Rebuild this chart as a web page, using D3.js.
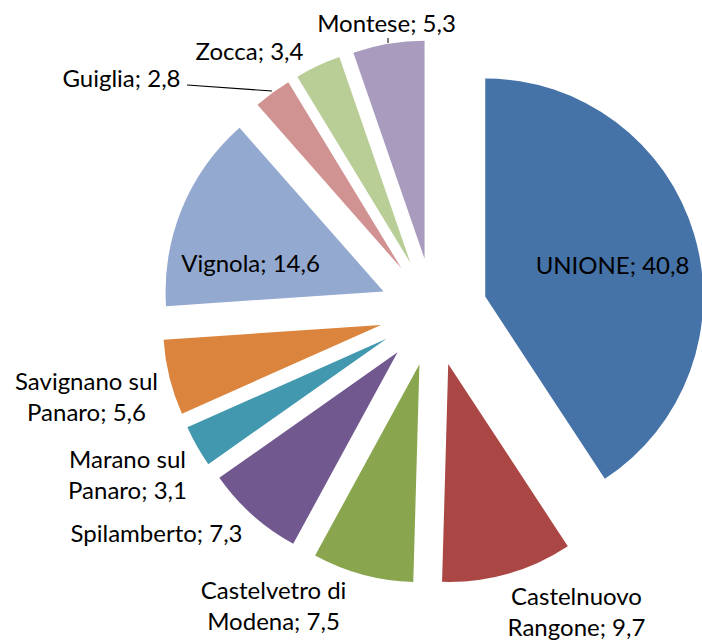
<!DOCTYPE html>
<html lang="it">

<head>
	<meta charset="UTF-8">
	<title>Pie</title>

	<style>
		body { margin: 0; background: #fff; }
		text { font-family: "Lato", "Open Sans", sans-serif; fill: #000; }
	</style>

	<script src="https://d3js.org/d3.v7.min.js"></script>

</head>

<body>

	<script type="text/javascript">
		const width = 702
		const height = 641

//data, in the order of the slices (clockwise from 12 o'clock)
		const names = ["UNIONE", "Castelnuovo Rangone", "Castelvetro di Modena", "Spilamberto",
			"Marano sul Panaro", "Savignano sul Panaro", "Vignola", "Guiglia", "Zocca", "Montese"]
		const values = [40.8, 9.7, 7.5, 7.3, 3.1, 5.6, 14.6, 2.8, 3.4, 5.3]
		const colors = ["#4572A7", "#AA4643", "#89A54E", "#71588F", "#4198AF",
			"#DB843D", "#93A9CF", "#D19392", "#B9CD96", "#A99BBD"]

//layout of the data labels: [x, y of first baseline], relative to the pie centre
		const labelPos = [[179, -38], [143, 293], [-160, 287], [-277, 230], [-306, 156],
			[-347, 78], [-183, -40], [-312, -225], [-184, -252], [-47, -280]]
		const labelWrap = [false, true, true, false, true, true, false, false, false, false]
		const lineH = 31

		const cx = 433.5, cy = 312
		const radius = 218
		const explode = 54

		const svg = d3.select("body").append("svg")
			.attr("width", width)
			.attr("height", height)

		const pie = d3.pie().sort(null).value(d => d)
		const arc = d3.arc().innerRadius(0).outerRadius(radius)
		const arcs = pie(values)

		const g = svg.append("g").attr("transform", "translate(" + cx + "," + cy + ")")

//slices, each pushed out along its bisector
		g.selectAll(".slice")
			.data(arcs)
			.join("path")
			.attr("class", "slice")
			.attr("d", arc)
			.attr("fill", (d, i) => colors[i])
			.attr("transform", d => {
				const a = (d.startAngle + d.endAngle) / 2
				return "translate(" + explode * Math.sin(a) + "," + (-explode * Math.cos(a)) + ")"
			})

//leader lines (Guiglia and Montese)
		g.append("path")
			.attr("d", "M" + (-246.5) + "," + (-227) + "L" + (-161.5) + "," + (-221))
			.attr("stroke", "#000").attr("stroke-width", 1.2).attr("fill", "none")
		g.append("path")
			.attr("d", "M" + (-45.5) + "," + (-274) + "L" + (-45.5) + "," + (-269))
			.attr("stroke", "#000").attr("stroke-width", 1).attr("fill", "none")

//labels
		const fmt = v => String(v).replace(".", ",")
		names.forEach((n, i) => {
			const label = n + "; " + fmt(values[i])
			let lines = [label]
			if (labelWrap[i]) {
				const words = n.split(" ")
				const last = words.pop()
				lines = [words.join(" "), last + "; " + fmt(values[i])]
			}
			const t = g.append("text")
				.attr("x", labelPos[i][0])
				.attr("y", labelPos[i][1])
				.attr("text-anchor", "middle")
				.style("font-size", "24px")
			lines.forEach((l, j) => {
				t.append("tspan")
					.attr("x", labelPos[i][0])
					.attr("dy", j === 0 ? 0 : lineH)
					.text(l)
			})
		})
	</script>

</body>

</html>
